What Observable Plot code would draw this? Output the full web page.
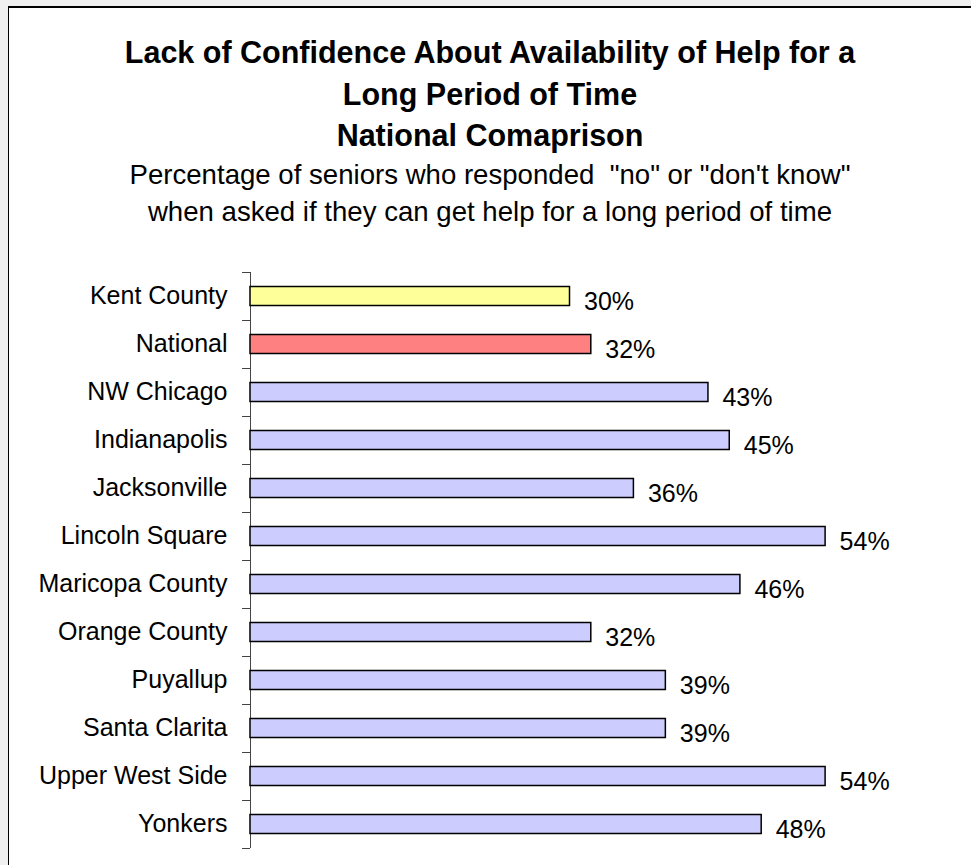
<!DOCTYPE html>
<html>
<head>
<meta charset="utf-8">
<script src="https://cdn.jsdelivr.net/npm/d3@7"></script>
<script src="https://cdn.jsdelivr.net/npm/@observablehq/plot@0.6"></script>
<style>
  html, body { margin: 0; padding: 0; width: 971px; height: 865px; overflow: hidden; background: #f0f0f0; }
  body { position: relative; font-family: "Liberation Sans", Arial, sans-serif; color: #000; }
  #frame { position: absolute; left: 8px; top: 6px; width: 1000px; height: 900px; background: #fff;
           border-left: 1px solid #000; border-top: 2px solid #000; }
  #title { position: absolute; left: 8px; width: 964px; top: 32px; text-align: center;
           font-weight: bold; font-size: 30.5px; line-height: 41.7px; white-space: nowrap; }
  #subtitle { position: absolute; left: 8px; width: 964px; top: 157px; text-align: center;
              font-size: 27.6px; line-height: 36.5px; white-space: pre; }
  #chart { position: absolute; left: 9px; top: 240px; }
</style>
</head>
<body>
<div id="frame"></div>
<div id="title">Lack of Confidence About Availability of Help for a<br>Long Period of Time<br>National Comaprison</div>
<div id="subtitle">Percentage of seniors who responded  "no" or "don't know"
when asked if they can get help for a long period of time</div>
<div id="chart"></div>
<script>
const categories = ["Kent County", "National", "NW Chicago", "Indianapolis", "Jacksonville",
  "Lincoln Square", "Maricopa County", "Orange County", "Puyallup", "Santa Clarita",
  "Upper West Side", "Yonkers"];
const values = [0.30, 0.32, 0.43, 0.45, 0.36, 0.54, 0.46, 0.32, 0.39, 0.39, 0.54, 0.48];
const roles = ["local", "national", "comparison", "comparison", "comparison", "comparison",
  "comparison", "comparison", "comparison", "comparison", "comparison", "comparison"];

const data = categories.map((name, i) => ({name, value: values[i], role: roles[i]}));
const fmt = v => Math.round(v * 100) + "%";

const chart = Plot.plot({
  width: 962,
  height: 625,
  marginLeft: 241,
  marginRight: 82,
  marginTop: 32,
  marginBottom: 17,
  style: {fontFamily: "'Liberation Sans', Arial, sans-serif", background: "none", color: "#000"},
  x: {domain: [0, 0.6], axis: null},
  y: {domain: categories, padding: 0, axis: null},
  color: {domain: ["local", "national", "comparison"], range: ["#FFFF99", "#FF8080", "#CCCCFF"]},
  marks: [
    Plot.axisY({tickSize: 8, tickFormat: () => "", dy: -24, label: null, stroke: "#444"}),
    Plot.axisY([categories[categories.length - 1]], {tickSize: 8, tickFormat: () => "", dy: 24, label: null, stroke: "#444"}),
    Plot.axisY({tickSize: 0, tickPadding: 23, fontSize: 25, dy: -1, label: null}),
    Plot.ruleX([0], {stroke: "#444"}),
    Plot.barX(data, {x: "value", y: "name", fill: "role", stroke: "#000", strokeWidth: 1.5,
                     insetTop: 14.5, insetBottom: 14.5}),
    Plot.text(data, {x: "value", y: "name", text: d => fmt(d.value), textAnchor: "start",
                     dx: 14, dy: 5, fontSize: 25, fill: "#000"})
  ]
});
document.getElementById("chart").appendChild(chart);
</script>
</body>
</html>
